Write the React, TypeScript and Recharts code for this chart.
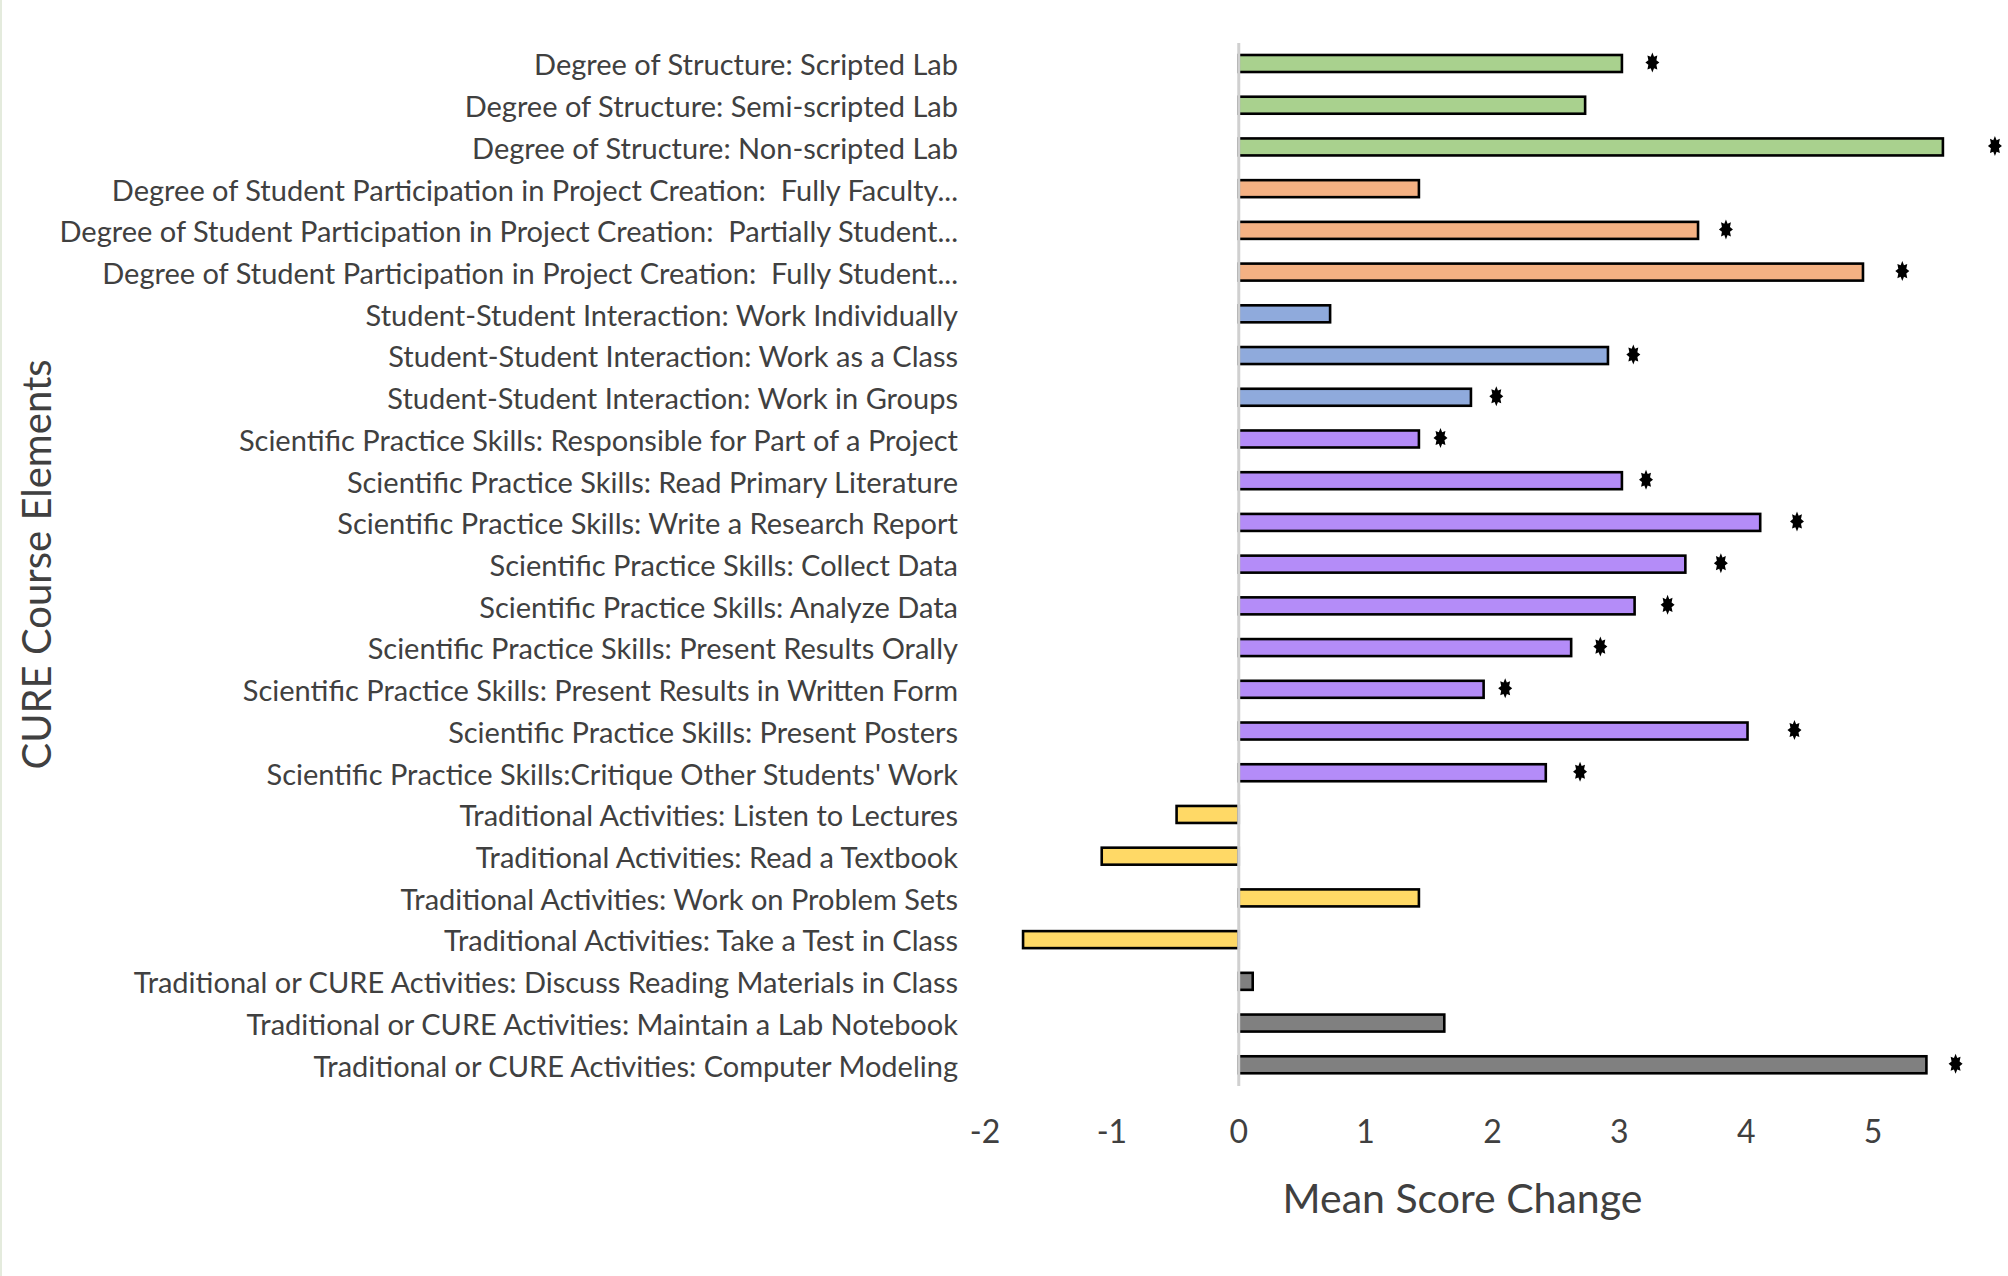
import { BarChart, Bar, XAxis, YAxis, Cell, ReferenceLine } from "recharts";

const labels = [
  "Degree of Structure: Scripted Lab",
  "Degree of Structure: Semi-scripted Lab",
  "Degree of Structure: Non-scripted Lab",
  "Degree of Student Participation in Project Creation:  Fully Faculty...",
  "Degree of Student Participation in Project Creation:  Partially Student...",
  "Degree of Student Participation in Project Creation:  Fully Student...",
  "Student-Student Interaction: Work Individually",
  "Student-Student Interaction: Work as a Class",
  "Student-Student Interaction: Work in Groups",
  "Scientific Practice Skills: Responsible for Part of a Project",
  "Scientific Practice Skills: Read Primary Literature",
  "Scientific Practice Skills: Write a Research Report",
  "Scientific Practice Skills: Collect Data",
  "Scientific Practice Skills: Analyze Data",
  "Scientific Practice Skills: Present Results Orally",
  "Scientific Practice Skills: Present Results in Written Form",
  "Scientific Practice Skills: Present Posters",
  "Scientific Practice Skills:Critique Other Students' Work",
  "Traditional Activities: Listen to Lectures",
  "Traditional Activities: Read a Textbook",
  "Traditional Activities: Work on Problem Sets",
  "Traditional Activities: Take a Test in Class",
  "Traditional or CURE Activities: Discuss Reading Materials in Class",
  "Traditional or CURE Activities: Maintain a Lab Notebook",
  "Traditional or CURE Activities: Computer Modeling",
];

const meanChange = [
  3.02, 2.73, 5.55, 1.42, 3.62, 4.92, 0.72, 2.91, 1.83, 1.42, 3.02, 4.11, 3.52,
  3.12, 2.62, 1.93, 4.01, 2.42, -0.49, -1.08, 1.42, -1.7, 0.11, 1.62, 5.42,
];

// position of the significance marker (null = not significant)
const starAt = [
  3.26, null, 5.96, null, 3.84, 5.23, null, 3.11, 2.03, 1.59, 3.21, 4.4, 3.8,
  3.38, 2.85, 2.1, 4.38, 2.69, null, null, null, null, null, null, 5.65,
];

const groups = [
  "structure", "structure", "structure",
  "participation", "participation", "participation",
  "interaction", "interaction", "interaction",
  "skills", "skills", "skills", "skills", "skills", "skills", "skills", "skills", "skills",
  "traditional", "traditional", "traditional", "traditional",
  "either", "either", "either",
];

const groupColors: Record<string, string> = {
  structure: "#a9d18e",
  participation: "#f4b183",
  interaction: "#8faadc",
  skills: "#b48cf8",
  traditional: "#ffd966",
  either: "#808080",
};

const xTicks = [-2, -1, 0, 1, 2, 3, 4, 5];

const data = labels.map((name, i) => ({
  name,
  value: meanChange[i],
  star: starAt[i],
  group: groups[i],
}));

const FONT = "Lato, 'Noto Sans', sans-serif";

function starPath(cx: number, cy: number) {
  const pts: string[] = [];
  const n = 8;
  for (let k = 0; k < n * 2; k++) {
    const a = (Math.PI * k) / n - Math.PI / 2;
    const r = k % 2 === 0 ? 1 : 0.62;
    pts.push(`${cx + Math.cos(a) * 7 * r},${cy + Math.sin(a) * 10 * r}`);
  }
  return `M${pts.join("L")}Z`;
}

function BarWithStar(props: any) {
  const { x, y, width, height, fill, payload } = props;
  const w = Math.abs(width);
  const left = width < 0 ? x + width : x;
  let star = null;
  if (payload.star != null && payload.value > 0) {
    const perUnit = width / payload.value;
    star = <path d={starPath(x + payload.star * perUnit, y + height / 2 - 1)} fill="#000" />;
  }
  return (
    <g>
      <rect x={left} y={y} width={w} height={height} fill={fill} stroke="#000" strokeWidth={2.6} />
      {star}
    </g>
  );
}

function CategoryTick(props: any) {
  const { x, y, payload } = props;
  return (
    <text
      x={x}
      y={y}
      textAnchor="end"
      dominantBaseline="central"
      fontFamily={FONT}
      fontSize={29}
      fill="#404040"
      style={{ whiteSpace: "pre" }}
    >
      {payload.value}
    </text>
  );
}

export default function App() {
  return (
    <div
      style={{
        position: "absolute",
        left: 0,
        top: 0,
        width: 2008,
        height: 1276,
        background: "#fff",
        borderLeft: "2px solid #e4ebdd",
        boxSizing: "border-box",
      }}
    >
      <BarChart
        width={2006}
        height={1276}
        data={data}
        layout="vertical"
        barSize={17}
        margin={{ top: 43, right: 8, bottom: 0, left: 0 }}
      >
        <XAxis
          type="number"
          domain={[-2, 6]}
          ticks={xTicks}
          axisLine={false}
          tickLine={false}
          tickMargin={28}
          height={190}
          tick={{ fontFamily: FONT, fontSize: 32, fill: "#404040" }}
          label={{
            value: "Mean Score Change",
            position: "insideTop",
            dy: 93,
            dx: -30,
            style: { fontFamily: FONT, fontSize: 41, fill: "#404040" },
          }}
        />
        <YAxis
          type="category"
          dataKey="name"
          width={983}
          axisLine={false}
          tickLine={false}
          interval={0}
          tickMargin={21}
          tick={<CategoryTick />}
          label={{
            value: "CURE Course Elements",
            angle: -90,
            position: "insideLeft",
            dx: 30,
            style: { fontFamily: FONT, fontSize: 40, fill: "#404040", textAnchor: "middle" },
          }}
        />
        <ReferenceLine x={0} stroke="#d0d0d0" strokeWidth={3} />
        <Bar dataKey="value" isAnimationActive={false} shape={<BarWithStar />}>
          {data.map((d, i) => (
            <Cell key={i} fill={groupColors[d.group]} />
          ))}
        </Bar>
      </BarChart>
    </div>
  );
}
